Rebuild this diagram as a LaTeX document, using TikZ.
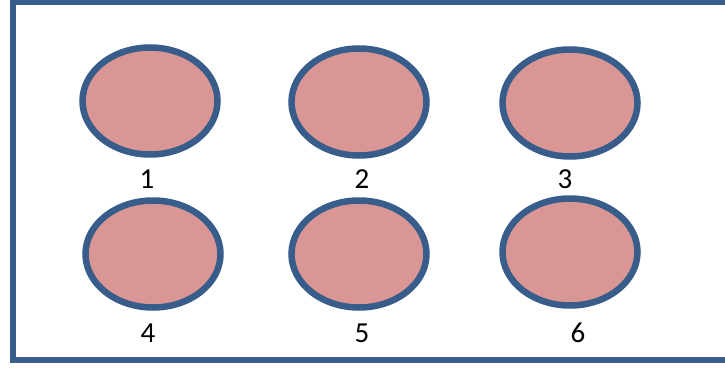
\documentclass[tikz,border=0pt]{standalone}
\usepackage{fontspec}
\setmainfont{Carlito}
\usetikzlibrary{shapes.geometric}
\definecolor{edgeblue}{HTML}{385D8A}
\definecolor{cellfill}{HTML}{D99694}
\tikzset{
  cell/.style={ellipse, draw=edgeblue, fill=cellfill, line width=6.5pt, inner sep=0pt,
    minimum width=135pt, minimum height=107pt},
  lab/.style={font=\fontsize{29}{29}\selectfont, text=black, inner sep=0pt}
}
\begin{document}
\begin{tikzpicture}[x=1pt,y=-1pt]
\useasboundingbox (0,0) rectangle (725,369);
\draw[edgeblue, line width=6pt] (745,2.5) -- (13,2.5) -- (13,360) -- (745,360);
\node[cell] (c1) at (150,101) {};
\node[cell] (c2) at (359,102) {};
\node[cell] (c3) at (570,103) {};
\node[cell] (c4) at (153,254) {};
\node[cell] (c5) at (359,254) {};
\node[cell] (c6) at (570,252) {};
\node[lab] (l1) at (147,179) {1};
\node[lab] (l2) at (362,179) {2};
\node[lab] (l3) at (565,179) {3};
\node[lab] (l4) at (148,333) {4};
\node[lab] (l5) at (362,333) {5};
\node[lab] (l6) at (578,333) {6};
\end{tikzpicture}
\end{document}
